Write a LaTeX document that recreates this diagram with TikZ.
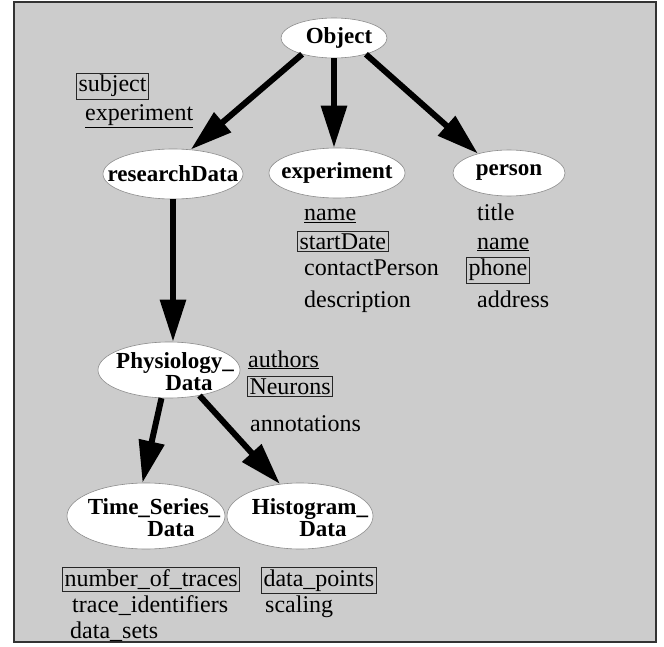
\documentclass[tikz,border=0pt]{standalone}
\usepackage{fontspec}
\setmainfont{Liberation Serif}
\usetikzlibrary{shapes.geometric,arrows.meta}

\tikzset{
  cls/.style={ellipse, fill=white, draw=black!45, line width=0.6pt, inner sep=-40pt,
              font=\fontsize{23}{22}\selectfont\bfseries, align=center},
  attr/.style={anchor=base west, inner sep=2pt, font=\fontsize{24}{24}\selectfont},
  keyattr/.style={attr, draw=black!85, line width=1pt, inner sep=2pt},
  isa/.style={line width=6pt, -{Triangle[length=42pt,width=25pt]}},
}
\newcommand{\refattr}[1]{\underline{#1}}
% two-line class name: first line nudged right by #1, second by #2, both lowered a little
\newcommand{\twoline}[4]{\raisebox{-5pt}[\height][\depth]{%
  \begin{tabular}{@{}c@{}}\hspace*{#1}#3\\\hspace*{#2}#4\end{tabular}}}

\begin{document}
\begin{tikzpicture}[x=1pt,y=-1pt]
  \useasboundingbox (0,0) rectangle (664,647);
  % panel
  \draw[fill=black!20, draw=black!80, line width=1.5pt] (14,2) rectangle (656,642);

  % class nodes
  \node[cls, minimum width=106pt, minimum height=40pt] (obj) at (334,38) {\hspace*{10pt}Object};
  \node[cls, minimum width=140pt, minimum height=50pt] (rd) at (173,174) {researchData};
  \node[cls, minimum width=136pt, minimum height=50pt] (exp) at (337,173) {experiment};
  \node[cls, minimum width=112pt, minimum height=46pt] (per) at (509,173) {person};
  \node[cls, minimum width=142pt, minimum height=56pt] (phys) at (169,370)
    {\twoline{12pt}{40pt}{Physiology\_}{Data}};
  \node[cls, minimum width=158pt, minimum height=66pt] (ts) at (146,516)
    {\twoline{16pt}{50pt}{Time\_Series\_}{Data}};
  \node[cls, minimum width=146pt, minimum height=66pt] (hist) at (300,516)
    {\twoline{20pt}{46pt}{Histogram\_}{Data}};

  % attributes of the root
  \node[keyattr] (o1) at (76,92) {subject};
  \node[attr] (o2) at (83,121) {\refattr{experiment}};

  % attributes of experiment
  \node[attr] (e1) at (302,221) {\refattr{name}};
  \node[keyattr] (e2) at (297,249) {startDate};
  \node[attr] (e3) at (302,276) {contactPerson};
  \node[attr] (e4) at (302,307) {description};

  % attributes of person
  \node[attr] (p1) at (475,221) {title};
  \node[attr] (p2) at (475,249) {\refattr{name}};
  \node[keyattr] (p3) at (466,276) {phone};
  \node[attr] (p4) at (475,307) {address};

  % attributes of Physiology_Data
  \node[attr] (d1) at (246,367) {\refattr{authors}};
  \node[keyattr] (d2) at (247,394) {Neurons};
  \node[attr] (d3) at (248,431) {annotations};

  % attributes of the data subclasses
  \node[keyattr] (t1) at (62,586) {number\_of\_traces};
  \node[attr] (t2) at (70,612) {trace\_identifiers};
  \node[attr] (t3) at (68,638) {data\_sets};
  \node[keyattr] (h1) at (261,586) {data\_points};
  \node[attr] (h2) at (263,612) {scaling};

  % inheritance arrows
  \draw[isa] (obj.207) -- (rd.54);
  \draw[isa] (obj.south) -- (obj.south |- exp.north);
  \draw[isa] (obj.333) -- (per.148);
  \draw[isa] (rd.south) -- (rd.south |- phys.north);
  \draw[isa] (phys.255) -- (ts.96);
  \draw[isa] (phys.320) -- (hist.122);
\end{tikzpicture}
\end{document}
